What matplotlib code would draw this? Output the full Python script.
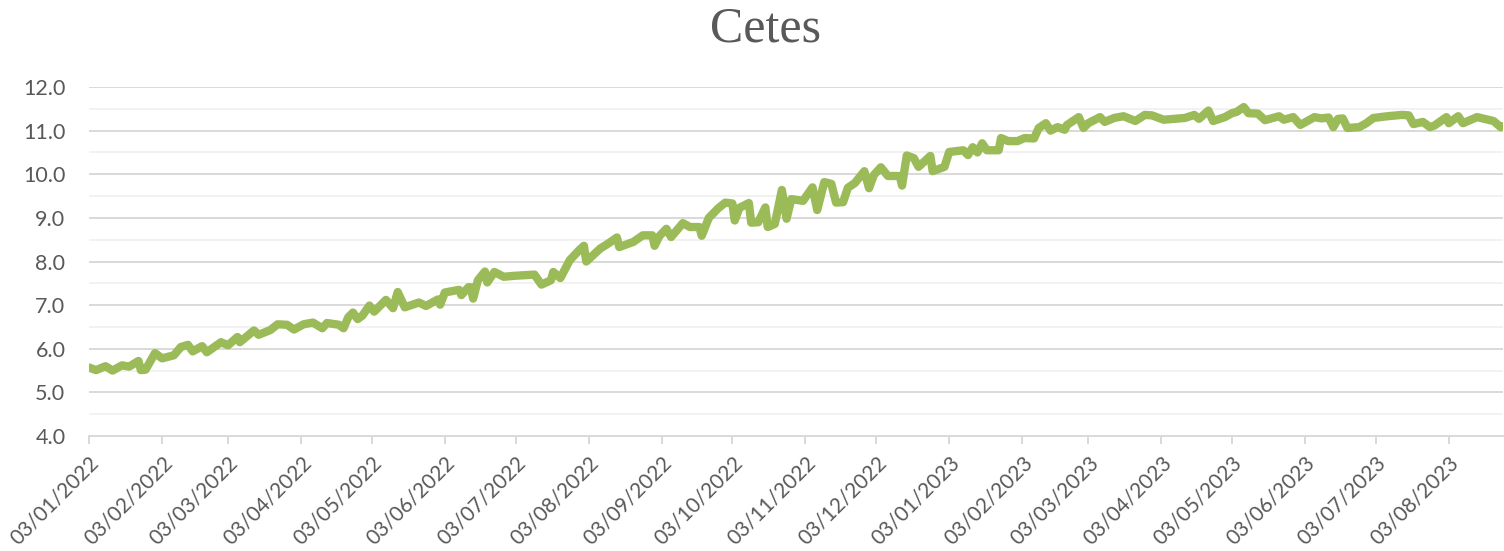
import matplotlib
matplotlib.use("Agg")
import matplotlib.pyplot as plt
import matplotlib.dates as mdates
from matplotlib.ticker import MultipleLocator, FormatStrFormatter
import pandas as pd

# Cetes rate (%)
dates = [
    "2022-01-03", "2022-01-06", "2022-01-10", "2022-01-13", "2022-01-17", "2022-01-20",
    "2022-01-24", "2022-01-25", "2022-01-27", "2022-01-31", "2022-02-03", "2022-02-08",
    "2022-02-11", "2022-02-14", "2022-02-16", "2022-02-20", "2022-02-22", "2022-02-28",
    "2022-03-03", "2022-03-07", "2022-03-08", "2022-03-14", "2022-03-16", "2022-03-21",
    "2022-03-24", "2022-03-28", "2022-03-31", "2022-04-04", "2022-04-08", "2022-04-12",
    "2022-04-14", "2022-04-19", "2022-04-21", "2022-04-23", "2022-04-25", "2022-04-27",
    "2022-04-29", "2022-05-02", "2022-05-04", "2022-05-09", "2022-05-12", "2022-05-14",
    "2022-05-17", "2022-05-23", "2022-05-26", "2022-05-31", "2022-06-01", "2022-06-03",
    "2022-06-09", "2022-06-10", "2022-06-13", "2022-06-14", "2022-06-15", "2022-06-17",
    "2022-06-20", "2022-06-21", "2022-06-24", "2022-06-28", "2022-07-02", "2022-07-11",
    "2022-07-14", "2022-07-18", "2022-07-19", "2022-07-22", "2022-07-26", "2022-07-30",
    "2022-08-01", "2022-08-02", "2022-08-08", "2022-08-11", "2022-08-15", "2022-08-16",
    "2022-08-22", "2022-08-26", "2022-08-30", "2022-08-31", "2022-09-02", "2022-09-05",
    "2022-09-07", "2022-09-12", "2022-09-15", "2022-09-19", "2022-09-20", "2022-09-23",
    "2022-09-27", "2022-09-30", "2022-10-03", "2022-10-04", "2022-10-06", "2022-10-10",
    "2022-10-11", "2022-10-14", "2022-10-17", "2022-10-18", "2022-10-21", "2022-10-24",
    "2022-10-26", "2022-10-28", "2022-11-02", "2022-11-06", "2022-11-08", "2022-11-11",
    "2022-11-14", "2022-11-16", "2022-11-19", "2022-11-21", "2022-11-24", "2022-11-28",
    "2022-11-30", "2022-12-02", "2022-12-05", "2022-12-08", "2022-12-13", "2022-12-14",
    "2022-12-16", "2022-12-19", "2022-12-21", "2022-12-26", "2022-12-27", "2023-01-01",
    "2023-01-03", "2023-01-09", "2023-01-11", "2023-01-13", "2023-01-15", "2023-01-17",
    "2023-01-19", "2023-01-24", "2023-01-25", "2023-01-28", "2023-02-01", "2023-02-04",
    "2023-02-08", "2023-02-10", "2023-02-13", "2023-02-15", "2023-02-18", "2023-02-21",
    "2023-02-22", "2023-02-27", "2023-03-01", "2023-03-03", "2023-03-08", "2023-03-10",
    "2023-03-14", "2023-03-18", "2023-03-23", "2023-03-27", "2023-03-30", "2023-04-04",
    "2023-04-13", "2023-04-17", "2023-04-19", "2023-04-23", "2023-04-25", "2023-04-30",
    "2023-05-03", "2023-05-05", "2023-05-08", "2023-05-10", "2023-05-14", "2023-05-17",
    "2023-05-23", "2023-05-25", "2023-05-29", "2023-06-01", "2023-06-07", "2023-06-10",
    "2023-06-13", "2023-06-15", "2023-06-17", "2023-06-19", "2023-06-21", "2023-06-26",
    "2023-06-29", "2023-07-02", "2023-07-08", "2023-07-14", "2023-07-17", "2023-07-19",
    "2023-07-23", "2023-07-26", "2023-07-28", "2023-08-02", "2023-08-03", "2023-08-07",
    "2023-08-09", "2023-08-15", "2023-08-22", "2023-08-25", "2023-08-26",
]
rates = [
    5.57, 5.51, 5.60, 5.50, 5.62, 5.59,
    5.72, 5.51, 5.52, 5.90, 5.78, 5.85,
    6.04, 6.09, 5.94, 6.06, 5.92, 6.15,
    6.08, 6.27, 6.15, 6.42, 6.32, 6.43,
    6.56, 6.55, 6.44, 6.56, 6.60, 6.47,
    6.59, 6.55, 6.47, 6.72, 6.83, 6.68,
    6.76, 6.99, 6.85, 7.12, 6.93, 7.30,
    6.95, 7.06, 6.98, 7.13, 7.01, 7.29,
    7.35, 7.23, 7.41, 7.41, 7.15, 7.57,
    7.77, 7.52, 7.76, 7.65, 7.67, 7.70,
    7.47, 7.57, 7.76, 7.62, 8.03, 8.26,
    8.36, 8.00, 8.30, 8.40, 8.55, 8.33,
    8.45, 8.60, 8.60, 8.36, 8.58, 8.75,
    8.56, 8.88, 8.79, 8.79, 8.59, 9.00,
    9.22, 9.35, 9.33, 8.94, 9.23, 9.34,
    8.89, 8.90, 9.24, 8.79, 8.86, 9.64,
    8.98, 9.43, 9.39, 9.70, 9.18, 9.82,
    9.78, 9.35, 9.36, 9.69, 9.80, 10.07,
    9.68, 9.98, 10.16, 9.96, 9.96, 9.74,
    10.43, 10.37, 10.17, 10.42, 10.07, 10.17,
    10.51, 10.55, 10.44, 10.62, 10.50, 10.71,
    10.55, 10.55, 10.83, 10.76, 10.76, 10.83,
    10.82, 11.06, 11.17, 11.00, 11.08, 11.02,
    11.13, 11.31, 11.06, 11.17, 11.31, 11.20,
    11.29, 11.33, 11.22, 11.36, 11.35, 11.25,
    11.29, 11.36, 11.27, 11.46, 11.22, 11.31,
    11.40, 11.43, 11.54, 11.40, 11.39, 11.24,
    11.33, 11.25, 11.31, 11.13, 11.31, 11.28,
    11.30, 11.08, 11.27, 11.28, 11.06, 11.08,
    11.17, 11.29, 11.33, 11.36, 11.35, 11.15,
    11.20, 11.08, 11.12, 11.31, 11.17, 11.33,
    11.17, 11.31, 11.22, 11.08, 11.10,
]
title = "Cetes"

x = pd.to_datetime(dates)
# ticks on the 3rd of every month
tick_dates = pd.date_range("2022-01-01", "2023-08-01", freq="MS") + pd.Timedelta(days=2)

GRAY_TXT = "#595959"
GRID = "#D9D9D9"

plt.rcParams["font.family"] = ["Lato", "DejaVu Sans"]

fig = plt.figure(figsize=(15.04, 5.51), dpi=100)
ax = fig.add_axes([89 / 1504, 1 - 436 / 551, (1503 - 89) / 1504, (436 - 87) / 551])

ax.plot(x, rates, color="#9BBB59", lw=6, solid_joinstyle="round", solid_capstyle="round")

ax.set_ylim(4, 12)
ax.set_xlim(x[0], x[-1])
ax.yaxis.set_major_locator(MultipleLocator(1))
ax.yaxis.set_minor_locator(MultipleLocator(0.5))
ax.yaxis.set_major_formatter(FormatStrFormatter("%.1f"))
ax.grid(axis="y", which="major", color=GRID, lw=1.4)
ax.grid(axis="y", which="minor", color="#F2F2F2", lw=1.4)
ax.set_axisbelow(True)

ax.set_xticks(tick_dates)
ax.xaxis.set_major_formatter(mdates.DateFormatter("%d/%m/%Y"))
ax.xaxis.set_minor_locator(matplotlib.ticker.NullLocator())

for s in ["top", "right", "left"]:
    ax.spines[s].set_visible(False)
ax.spines["bottom"].set_color(GRID)
ax.spines["bottom"].set_linewidth(1.4)

ax.tick_params(axis="y", which="both", length=0, pad=17, labelsize=15.5, labelcolor=GRAY_TXT)
ax.tick_params(axis="x", length=6, width=1.4, color=GRID, pad=6, labelsize=15, labelcolor=GRAY_TXT)
for lab in ax.get_xticklabels():
    lab.set_rotation(45)
    lab.set_ha("right")
    lab.set_rotation_mode("anchor")

fig.text(765 / 1504, 1 - 42 / 551, title, ha="center", va="baseline",
         fontsize=36, color=GRAY_TXT, family="Liberation Serif")

fig.savefig("out.png", dpi=100)
